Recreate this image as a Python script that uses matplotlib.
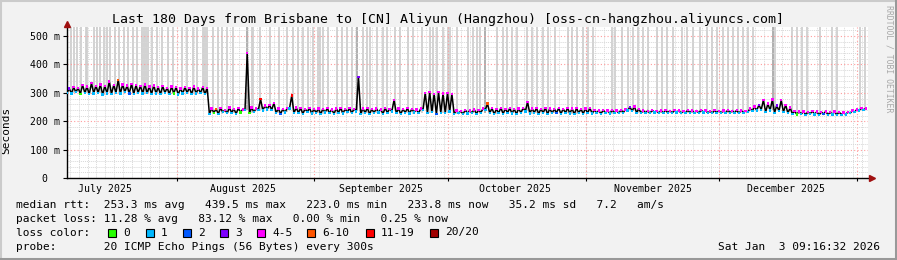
import datetime as dt

import numpy as np
import matplotlib
matplotlib.use("Agg")
from matplotlib import pyplot as plt
from matplotlib.lines import Line2D
from matplotlib.patches import Rectangle
from matplotlib.ticker import FixedLocator, MultipleLocator, NullFormatter
from matplotlib.transforms import ScaledTranslation

# =============================================================================
# data (one high / low median value per day)
# =============================================================================

END = dt.datetime(2026, 1, 3, 9, 16, 32)
N_DAYS = 180
START = END - dt.timedelta(days=N_DAYS)

# daily peak of the median rtt (ms)
hi = [
    315, 320, 318, 328, 322, 335, 325, 330, 324, 340, 328, 345, 330, 326, 332, 327,
    325, 330, 322, 326, 320, 324, 318, 322, 320, 316, 320, 318, 322, 315, 320, 318,
    245, 243, 246, 240, 248, 244, 246, 242, 440, 248, 245, 278, 255, 258, 264, 245,
    243, 247, 290, 248, 246, 244, 247, 243, 245, 244, 246, 242, 245, 247, 243, 246,
    244, 356, 245, 247, 243, 245, 242, 246, 244, 275, 245, 243, 246, 244, 242, 245,
    300, 303, 296, 302, 298, 300, 295,
    238, 236, 240, 238, 242, 240, 245, 262, 246, 243, 247, 244, 246, 243, 245, 247,
    268, 245, 246, 244, 247, 245, 243, 246, 244, 247, 245, 246, 243, 245, 247, 240,
    238, 240, 238, 240, 238, 240, 242, 250, 252, 244,
    238, 237, 239, 236, 238, 240, 237, 239, 238, 236, 239, 238, 237, 240, 238, 236,
    239, 237, 238, 240, 237, 239, 238, 236,
    245, 252, 258, 275, 262, 276, 255, 274, 258, 248,
    236, 234, 235, 233, 236, 234, 233, 235, 232, 234, 233, 231, 233,
    238, 242, 246, 245,
]

# daily trough of the median rtt (ms)
lo = [
    300, 298, 302, 296, 300, 295, 298, 300, 294, 298, 296, 300, 297, 302, 298, 296,
    300, 297, 299, 296, 298, 295, 300, 296, 298, 294, 297, 300, 296, 298, 300, 295,
    225, 230, 226, 232, 228, 230, 226, 231, 240, 228, 232, 240, 238, 242, 240, 229,
    226, 231, 245, 228, 230, 226, 232, 227, 230, 225, 231, 228, 226, 230, 227, 232,
    228, 235, 226, 230, 225, 229, 231, 226, 230, 235, 228, 225, 230, 227, 231, 228,
    240, 228, 232, 225, 230, 228, 235,
    226, 228, 225, 227, 229, 226, 230, 240, 228, 225, 229, 226, 230, 227, 225, 229,
    235, 227, 230, 226, 229, 225, 228, 230, 226, 229, 227, 225, 229, 226, 228, 227,
    229, 226, 228, 227, 229, 228, 230, 238, 236, 230,
    229, 230, 228, 231, 229, 228, 230, 229, 231, 228, 229, 230, 228, 229, 231, 229,
    228, 230, 229, 228, 230, 229, 228, 230,
    232, 236, 238, 240, 232, 238, 230, 236, 232, 228,
    226, 224, 225, 223, 226, 224, 222, 225, 223, 224, 222, 223, 224,
    228, 232, 238, 240,
]

# loss class of each point (index into loss_colors), default + exceptions
hi_loss_default = 4
hi_loss_exc = {0: 3, 11: 5, 33: 5, 43: 6, 50: 6, 65: 3, 94: 5, 126: 3, 155: 3, 159: 3}
lo_loss_default = 1
lo_loss_exc = {3: 0, 14: 2, 24: 0, 33: 0, 39: 0, 41: 0, 48: 2, 83: 2, 110: 2, 164: 0, 170: 2}

# days (since start) where the smoke runs off the top of the graph
smoke_days = [
    0.9, 1.6, 2.2, 3.1, 4.3, 4.5, 6.1, 6.7, 7.4, 8.3, 9.0, 9.7, 10.8, 11.7, 12.8,
    13.7, 14.8, 15.7, 16.9, 17.3, 17.8, 18.2, 19.1, 20.2, 21.3, 22.7, 23.8, 25.8,
    27.0, 28.3, 29.2, 30.6, 31.0, 31.5, 32.8, 33.9, 34.8, 36.0, 37.3, 40.4, 41.6,
    41.8, 43.4, 45.6, 47.6, 49.4, 50.8, 51.9, 53.0, 54.2, 55.3, 56.4, 56.9, 57.5,
    58.7, 60.7, 61.8, 62.9, 64.0, 65.2, 66.5, 67.4, 68.1, 69.7, 71.0, 71.9, 73.7,
    74.8, 76.6, 77.8, 79.8, 81.6, 82.2, 83.1, 84.5, 85.6, 86.1, 87.6, 90.1, 91.2,
    92.1, 92.8, 93.9, 96.6, 98.0, 98.9, 100.0, 101.1, 103.4, 104.5, 105.6, 107.0,
    108.1, 109.7, 112.6, 113.5, 114.6, 116.0, 117.1, 118.2, 122.5, 123.1, 124.7,
    126.1, 127.2, 128.3, 129.4, 130.6, 132.6, 133.7, 134.8, 136.2, 138.2, 139.3,
    140.7, 142.2, 143.8, 144.9, 146.1, 147.4, 148.5, 149.7, 150.8, 151.9, 153.0,
    154.2, 158.7, 159.1, 162.9, 164.0, 165.2, 166.3, 169.2, 171.9, 173.0, 178.2,
    179.3,
]
dark_smoke_days = [40.4, 65.2, 93.9, 158.7]

loss_colors = ["#26ff00", "#00b8ff", "#0059ff", "#7e00ff", "#ff00ff", "#ff5500", "#ff0000", "#a10000"]
loss_labels = ["0", "1", "2", "3", "4-5", "6-10", "11-19", "20/20"]

y_ticks = [0, 100, 200, 300, 400, 500]
month_starts = [dt.datetime(2025, m, 1) for m in (8, 9, 10, 11, 12)] + [dt.datetime(2026, 1, 1)]
month_labels = ["July 2025", "August 2025", "September 2025", "October 2025", "November 2025", "December 2025"]
label_dates = [dt.datetime(2025, m, 16) for m in (7, 8, 9, 10, 11, 12)]

title = "Last 180 Days from Brisbane to [CN] Aliyun (Hangzhou) [oss-cn-hangzhou.aliyuncs.com]"
legend_lines = [
    "median rtt:  253.3 ms avg   439.5 ms max   223.0 ms min   233.8 ms now   35.2 ms sd   7.2   am/s",
    "packet loss: 11.28 % avg   83.12 % max   0.00 % min   0.25 % now",
    "loss color:",
    "probe:       20 ICMP Echo Pings (56 Bytes) every 300s",
]
stamp = "Sat Jan  3 09:16:32 2026"

# =============================================================================
# plot
# =============================================================================

W, H = 897, 260
MONO = "DejaVu Sans Mono"
BG = "#f2f2f2"


def day_of(t):
    return (t - START).total_seconds() / 86400.0


fig = plt.figure(figsize=(W / 100, H / 100), dpi=100, facecolor=BG)
ax = fig.add_axes([67 / W, (H - 178) / H, 801 / W, 151 / H])
ax.set_facecolor("white")
ax.set_xlim(0, N_DAYS)
ax.set_ylim(0, 532)

# grid
ax.yaxis.set_major_locator(FixedLocator(y_ticks))
ax.yaxis.set_minor_locator(MultipleLocator(20))
ax.xaxis.set_major_locator(FixedLocator([day_of(t) for t in month_starts]))
ax.xaxis.set_minor_locator(FixedLocator([day_of(t) for t in label_dates]))
ax.grid(which="major", color="#ff9c9c", linestyle=(0, (1, 2)), linewidth=0.8)
ax.grid(which="minor", axis="y", color="#d8d8d8", linestyle=(0, (1, 1)), linewidth=0.7)
first_midnight = day_of(dt.datetime(2025, 7, 8))
for d in np.arange(first_midnight, N_DAYS, 2.0):
    ax.axvline(d, color="#d8d8d8", linestyle=(0, (1, 1)), linewidth=0.7, zorder=0.5)

# smoke running off the top
days = np.arange(N_DAYS)
for sd in smoke_days:
    base = lo[min(int(sd), N_DAYS - 1)]
    col = "#a9a9a9" if sd in dark_smoke_days else "#cfcfcf"
    ax.vlines(sd, base, 532, color=col, linewidth=1.3, zorder=1)

# median line coloured by loss
xs = np.ravel(np.column_stack([days, days + 0.5]))
ys = np.ravel(np.column_stack([lo, hi]))
ax.plot(xs, ys, color="black", linewidth=1.1, zorder=3, solid_joinstyle="miter")
hi_cols = [loss_colors[hi_loss_exc.get(d, hi_loss_default)] for d in days]
lo_cols = [loss_colors[lo_loss_exc.get(d, lo_loss_default)] for d in days]
ax.scatter(days + 0.5, hi, s=3, marker="s", c=hi_cols, linewidths=0, zorder=4)
ax.scatter(days, lo, s=3, marker="s", c=lo_cols, linewidths=0, zorder=4)

# axes frame
for side in ("top", "right"):
    ax.spines[side].set_visible(False)
for side in ("left", "bottom"):
    ax.spines[side].set_linewidth(1.0)
ax.tick_params(axis="y", which="major", length=3, width=0.8, pad=3, labelsize=7.1)
ax.tick_params(axis="y", which="minor", length=0)
ax.tick_params(axis="x", which="major", length=2.5, width=0.8, labelbottom=False)
ax.tick_params(axis="x", which="minor", length=0, pad=4, labelsize=7.1)
ax.set_yticklabels([f"{v:>3}" + (" m" if v else "") for v in y_ticks], family=MONO, ha="left")
shift = ScaledTranslation(-29 / 100, 0, fig.dpi_scale_trans)
for lab in ax.get_yticklabels():
    lab.set_transform(lab.get_transform() + shift)
ax.xaxis.set_major_formatter(NullFormatter())
ax.set_xticklabels(month_labels, minor=True, family=MONO)

# arrows at the ends of the axes
ax.plot([0], [1], marker="^", ms=5, color="#a01010", transform=ax.transAxes + ScaledTranslation(0, 3 / 100, fig.dpi_scale_trans), clip_on=False, zorder=6)
ax.plot([1], [0], marker=">", ms=5, color="#a01010", transform=ax.transAxes + ScaledTranslation(4 / 100, 0, fig.dpi_scale_trans), clip_on=False, zorder=6)

ax.set_ylabel("Seconds", family=MONO, fontsize=8)
ax.yaxis.set_label_coords(11 / W, 0.5, transform=fig.transFigure)

# texts
fig.text(447.5 / W, 1 - 19.5 / H, title, family=MONO, fontsize=9.5, ha="center", va="center")
fig.text(889 / W, 1 - 5 / H, "RRDTOOL / TOBI OETIKER", family=MONO, fontsize=5.9, color="#a8a8a8", rotation=-90, ha="center", va="top")
for i, line in enumerate(legend_lines):
    fig.text(16 / W, 1 - (204.5 + 14 * i) / H, line, family=MONO, fontsize=8.05, ha="left", va="center")
fig.text(880 / W, 1 - 246.5 / H, stamp, family=MONO, fontsize=8.05, ha="right", va="center")

box_x = [108, 146, 183, 220, 257, 307, 366, 430]
for bx, col, lab in zip(box_x, loss_colors, loss_labels):
    fig.add_artist(Rectangle((bx / W, 1 - 237 / H), 8 / W, 8 / H, transform=fig.transFigure, facecolor=col, edgecolor="black", linewidth=0.8))
    fig.text((bx + 15) / W, 1 - 232.5 / H, lab, family=MONO, fontsize=8.05, ha="left", va="center")

# 3d frame of the rrdtool canvas
fig.add_artist(Line2D([0, 1], [1 - 1 / H, 1 - 1 / H], transform=fig.transFigure, color="#cbcbcb", linewidth=1.5))
fig.add_artist(Line2D([1 / W, 1 / W], [0, 1], transform=fig.transFigure, color="#cbcbcb", linewidth=1.5))
fig.add_artist(Line2D([0, 1], [1.5 / H, 1.5 / H], transform=fig.transFigure, color="#999999", linewidth=2.2))
fig.add_artist(Line2D([1 - 1.5 / W, 1 - 1.5 / W], [0, 1], transform=fig.transFigure, color="#999999", linewidth=2.2))

fig.savefig("out.png", dpi=100, facecolor=BG)
